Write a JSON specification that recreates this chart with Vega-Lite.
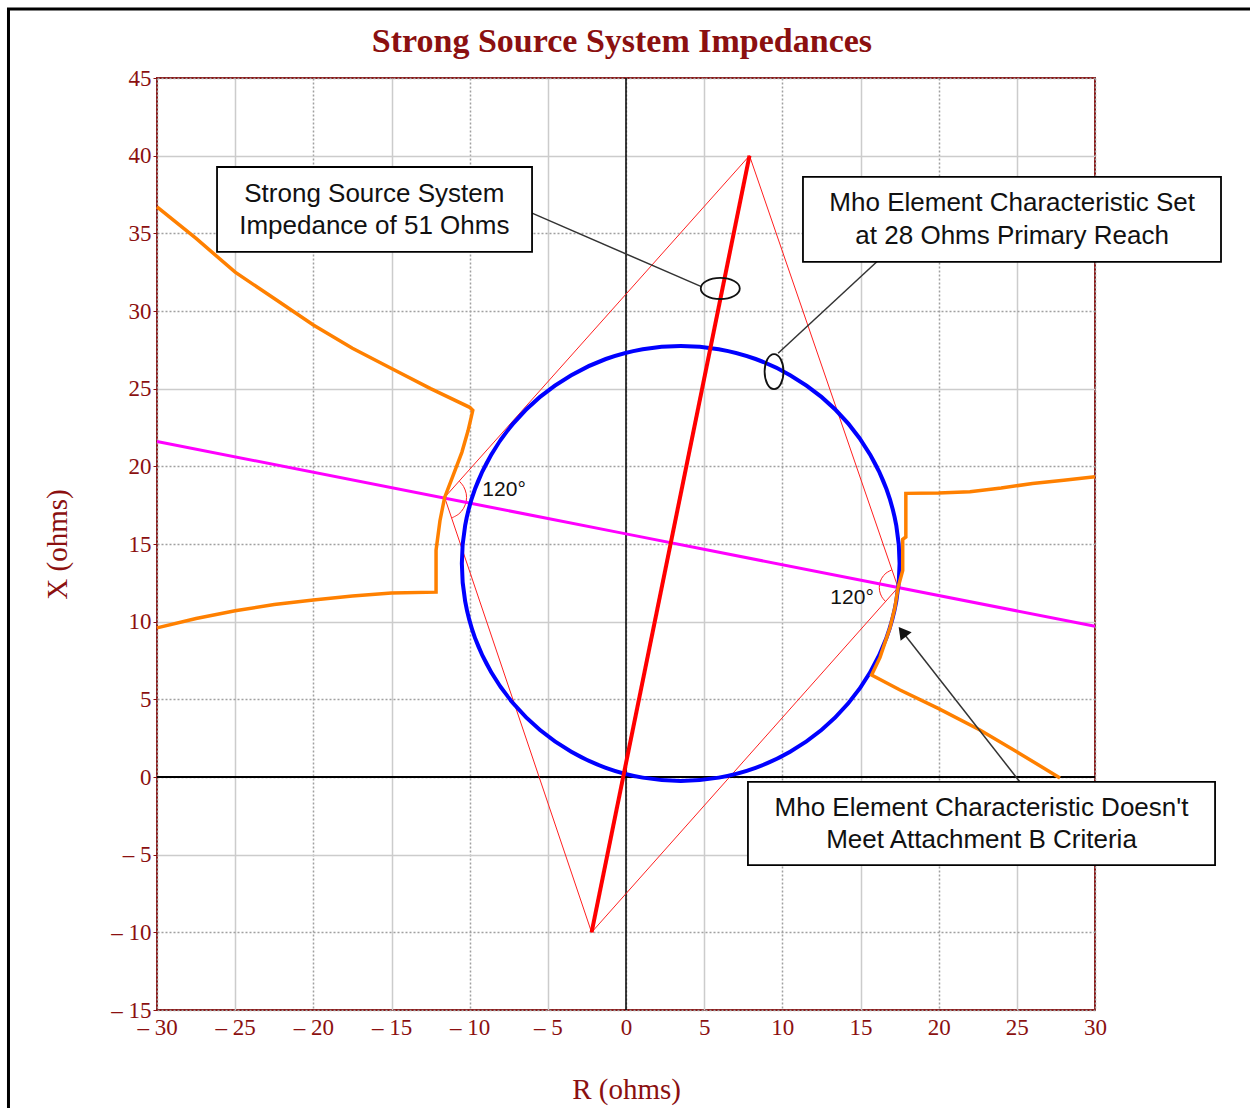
{
  "$schema": "https://vega.github.io/schema/vega-lite/v6.json",
  "width": 938,
  "height": 932,
  "autosize": {"type": "none"},
  "padding": {"left": 157, "top": 78, "right": 155, "bottom": 98},
  "background": "white",
  "datasets": {
    "frame": [{"x": -39.5, "x2": 60, "y": 49.45, "y2": -30}],
    "heading": [{"x": -0.26, "y": 46.67, "t": "Strong Source System Impedances"}],
    "zeroV": [{"x": 0, "y": -15, "y2": 45}],
    "zeroH": [{"x": -30, "x2": 30, "y": 0}],
    "poly": [
      {"o": 1, "x": 7.9, "y": 40},
      {"o": 2, "x": -11.6, "y": 18},
      {"o": 3, "x": -2.2, "y": -10},
      {"o": 4, "x": 17.4, "y": 12.2},
      {"o": 5, "x": 7.9, "y": 40}
    ],
    "arcs": [
      {"g": "L", "o": 1, "x": -10.66, "y": 19.04},
      {"g": "L", "o": 2, "x": -10.39, "y": 18.7},
      {"g": "L", "o": 3, "x": -10.22, "y": 18.24},
      {"g": "L", "o": 4, "x": -10.22, "y": 17.76},
      {"g": "L", "o": 5, "x": -10.39, "y": 17.3},
      {"g": "L", "o": 6, "x": -10.7, "y": 16.93},
      {"g": "L", "o": 7, "x": -11.14, "y": 16.68},
      {"g": "R", "o": 1, "x": 17.01, "y": 13.34},
      {"g": "R", "o": 2, "x": 16.63, "y": 13.12},
      {"g": "R", "o": 3, "x": 16.36, "y": 12.8},
      {"g": "R", "o": 4, "x": 16.22, "y": 12.41},
      {"g": "R", "o": 5, "x": 16.22, "y": 11.99},
      {"g": "R", "o": 6, "x": 16.36, "y": 11.6},
      {"g": "R", "o": 7, "x": 16.61, "y": 11.29}
    ],
    "magenta": [
      {"o": 1, "x": -30, "y": 21.6},
      {"o": 2, "x": 0, "y": 15.65},
      {"o": 3, "x": 30, "y": 9.7}
    ],
    "circle": [
      {"o": 0, "x": 17.5, "y": 13.75},
      {"o": 1, "x": 17.29, "y": 16.18},
      {"o": 2, "x": 16.66, "y": 18.54},
      {"o": 3, "x": 15.62, "y": 20.75},
      {"o": 4, "x": 14.22, "y": 22.75},
      {"o": 5, "x": 12.5, "y": 24.47},
      {"o": 6, "x": 10.5, "y": 25.87},
      {"o": 7, "x": 8.29, "y": 26.91},
      {"o": 8, "x": 5.93, "y": 27.54},
      {"o": 9, "x": 3.5, "y": 27.75},
      {"o": 10, "x": 1.07, "y": 27.54},
      {"o": 11, "x": -1.29, "y": 26.91},
      {"o": 12, "x": -3.5, "y": 25.87},
      {"o": 13, "x": -5.5, "y": 24.47},
      {"o": 14, "x": -7.22, "y": 22.75},
      {"o": 15, "x": -8.62, "y": 20.75},
      {"o": 16, "x": -9.66, "y": 18.54},
      {"o": 17, "x": -10.29, "y": 16.18},
      {"o": 18, "x": -10.5, "y": 13.75},
      {"o": 19, "x": -10.29, "y": 11.32},
      {"o": 20, "x": -9.66, "y": 8.96},
      {"o": 21, "x": -8.62, "y": 6.75},
      {"o": 22, "x": -7.22, "y": 4.75},
      {"o": 23, "x": -5.5, "y": 3.03},
      {"o": 24, "x": -3.5, "y": 1.63},
      {"o": 25, "x": -1.29, "y": 0.59},
      {"o": 26, "x": 1.07, "y": -0.04},
      {"o": 27, "x": 3.5, "y": -0.25},
      {"o": 28, "x": 5.93, "y": -0.04},
      {"o": 29, "x": 8.29, "y": 0.59},
      {"o": 30, "x": 10.5, "y": 1.63},
      {"o": 31, "x": 12.5, "y": 3.03},
      {"o": 32, "x": 14.22, "y": 4.75},
      {"o": 33, "x": 15.62, "y": 6.75},
      {"o": 34, "x": 16.66, "y": 8.96},
      {"o": 35, "x": 17.29, "y": 11.32}
    ],
    "orange": [
      {"g": "L", "o": 1, "x": -30, "y": 36.7},
      {"g": "L", "o": 2, "x": -27.5, "y": 34.67},
      {"g": "L", "o": 3, "x": -25, "y": 32.5},
      {"g": "L", "o": 4, "x": -22.5, "y": 30.8},
      {"g": "L", "o": 5, "x": -20, "y": 29.1},
      {"g": "L", "o": 6, "x": -17.5, "y": 27.6},
      {"g": "L", "o": 7, "x": -15, "y": 26.3},
      {"g": "L", "o": 8, "x": -12.5, "y": 25.0},
      {"g": "L", "o": 9, "x": -10, "y": 23.8},
      {"g": "L", "o": 10, "x": -9.8, "y": 23.6},
      {"g": "L", "o": 11, "x": -10.1, "y": 22.3},
      {"g": "L", "o": 12, "x": -10.5, "y": 20.9},
      {"g": "L", "o": 13, "x": -11.1, "y": 19.3},
      {"g": "L", "o": 14, "x": -11.6, "y": 18.0},
      {"g": "L", "o": 15, "x": -11.9, "y": 16.5},
      {"g": "L", "o": 16, "x": -12.15, "y": 14.6},
      {"g": "L", "o": 17, "x": -12.15, "y": 11.9},
      {"g": "L", "o": 18, "x": -15, "y": 11.85},
      {"g": "L", "o": 19, "x": -17.5, "y": 11.65},
      {"g": "L", "o": 20, "x": -20, "y": 11.4},
      {"g": "L", "o": 21, "x": -22.5, "y": 11.1},
      {"g": "L", "o": 22, "x": -25, "y": 10.7},
      {"g": "L", "o": 23, "x": -27.5, "y": 10.2},
      {"g": "L", "o": 24, "x": -30, "y": 9.6},
      {"g": "R", "o": 1, "x": 30, "y": 19.33},
      {"g": "R", "o": 2, "x": 28, "y": 19.1},
      {"g": "R", "o": 3, "x": 26, "y": 18.9},
      {"g": "R", "o": 4, "x": 24, "y": 18.6},
      {"g": "R", "o": 5, "x": 22, "y": 18.37},
      {"g": "R", "o": 6, "x": 20, "y": 18.28},
      {"g": "R", "o": 7, "x": 17.9, "y": 18.26},
      {"g": "R", "o": 8, "x": 17.9, "y": 15.45},
      {"g": "R", "o": 9, "x": 17.7, "y": 15.3},
      {"g": "R", "o": 10, "x": 17.7, "y": 13.3},
      {"g": "R", "o": 11, "x": 17.4, "y": 12.2},
      {"g": "R", "o": 12, "x": 17.2, "y": 10.9},
      {"g": "R", "o": 13, "x": 16.9, "y": 9.66},
      {"g": "R", "o": 14, "x": 16.25, "y": 7.7},
      {"g": "R", "o": 15, "x": 15.71, "y": 6.57},
      {"g": "R", "o": 16, "x": 17.53, "y": 5.6},
      {"g": "R", "o": 17, "x": 20, "y": 4.4},
      {"g": "R", "o": 18, "x": 22.64, "y": 3.03},
      {"g": "R", "o": 19, "x": 25.2, "y": 1.5},
      {"g": "R", "o": 20, "x": 27.76, "y": -0.06}
    ],
    "redline": [
      {"o": 1, "x": -2.2, "y": -10},
      {"o": 2, "x": 7.9, "y": 40}
    ],
    "leaders": [
      {"g": 1, "o": 1, "x": -6.01, "y": 36.3},
      {"g": 1, "o": 2, "x": 4.86, "y": 31.55},
      {"g": 2, "o": 1, "x": 9.73, "y": 27.28},
      {"g": 2, "o": 2, "x": 16.08, "y": 33.2},
      {"g": 3, "o": 1, "x": 25.2, "y": -0.32},
      {"g": 3, "o": 2, "x": 17.68, "y": 9.35}
    ],
    "ellH": [{"x": 6.03, "y": 31.45}],
    "ellV": [{"x": 9.47, "y": 26.1}],
    "arrowhead": [{"x": 17.68, "y": 9.35}],
    "boxes": [
      {"x": -26.16, "x2": -6.01, "y": 39.27, "y2": 33.8},
      {"x": 11.32, "x2": 38.06, "y": 38.63, "y2": 33.16},
      {"x": 7.8, "x2": 37.68, "y": -0.32, "y2": -5.67}
    ],
    "boxText": [
      {"x": -16.1, "y": 37.53, "t": "Strong Source System"},
      {"x": -16.1, "y": 35.47, "t": "Impedance of 51 Ohms"},
      {"x": 24.7, "y": 36.95, "t": "Mho Element Characteristic Set"},
      {"x": 24.7, "y": 34.83, "t": "at 28 Ohms Primary Reach"},
      {"x": 22.74, "y": -2.0, "t": "Mho Element Characteristic Doesn't"},
      {"x": 22.74, "y": -4.06, "t": "Meet Attachment B Criteria"}
    ],
    "angles": [
      {"x": -7.8, "y": 18.48, "t": "120°"},
      {"x": 14.46, "y": 11.52, "t": "120°"}
    ]
  },
  "encoding": {
    "x": {
      "field": "x",
      "type": "quantitative",
      "title": "R (ohms)",
      "scale": {"domain": [-30, 30], "nice": false, "zero": false},
      "axis": {
        "values": [-30, -25, -20, -15, -10, -5, 0, 5, 10, 15, 20, 25, 30],
        "labelExpr": "datum.value < 0 ? '– ' + (-datum.value) : '' + datum.value",
        "labelFont": "Liberation Serif",
        "labelFontSize": 23,
        "labelColor": "#8b1010",
        "labelPadding": 6,
        "labelFlush": false,
        "labelOverlap": false,
        "ticks": false,
        "domain": false,
        "grid": true,
        "gridWidth": 1.5,
        "gridColor": {"condition": {"test": "datum.value % 10 === 0", "value": "#a0a0a0"}, "value": "#cccccc"},
        "gridDash": {"condition": {"test": "datum.value % 10 === 0", "value": [2, 2]}, "value": []},
        "titleFont": "Liberation Serif",
        "titleFontSize": 29,
        "titleFontWeight": "normal",
        "titleColor": "#8b1010",
        "titlePadding": 36
      }
    },
    "y": {
      "field": "y",
      "type": "quantitative",
      "title": "X (ohms)",
      "scale": {"domain": [-15, 45], "nice": false, "zero": false},
      "axis": {
        "values": [-15, -10, -5, 0, 5, 10, 15, 20, 25, 30, 35, 40, 45],
        "labelExpr": "datum.value < 0 ? '– ' + (-datum.value) : '' + datum.value",
        "labelFont": "Liberation Serif",
        "labelFontSize": 23,
        "labelColor": "#8b1010",
        "labelPadding": 2,
        "labelFlush": false,
        "labelOverlap": false,
        "ticks": true,
        "tickSize": 4,
        "tickColor": "#8b1010",
        "domain": false,
        "grid": true,
        "gridWidth": 1.5,
        "gridColor": {"condition": {"test": "(datum.value + 5) % 15 === 0", "value": "#cccccc"}, "value": "#a0a0a0"},
        "gridDash": {"condition": {"test": "(datum.value + 5) % 15 === 0", "value": []}, "value": [2, 2]},
        "titleFont": "Liberation Serif",
        "titleFontSize": 29,
        "titleFontWeight": "normal",
        "titleColor": "#8b1010",
        "titlePadding": 38
      }
    }
  },
  "layer": [
    {
      "data": {"name": "frame"},
      "mark": {"type": "rect", "fillOpacity": 0, "stroke": "black", "strokeWidth": 3},
      "encoding": {"x2": {"field": "x2"}, "y2": {"field": "y2"}}
    },
    {
      "data": {"name": "heading"},
      "mark": {"type": "text", "font": "Liberation Serif", "fontSize": 34, "fontWeight": "bold", "color": "#8b1010", "align": "center", "baseline": "alphabetic"},
      "encoding": {"text": {"field": "t"}}
    },
    {
      "data": {"name": "zeroV"},
      "mark": {"type": "rule", "color": "black", "strokeWidth": 1.5},
      "encoding": {"y2": {"field": "y2"}}
    },
    {
      "data": {"name": "zeroH"},
      "mark": {"type": "rule", "color": "black", "strokeWidth": 2},
      "encoding": {"x2": {"field": "x2"}}
    },
    {
      "data": {"name": "poly"},
      "mark": {"type": "line", "color": "#ff2020", "strokeWidth": 1},
      "encoding": {"order": {"field": "o"}}
    },
    {
      "data": {"name": "arcs"},
      "mark": {"type": "line", "color": "#ff2020", "strokeWidth": 1, "interpolate": "cardinal"},
      "encoding": {"detail": {"field": "g"}, "order": {"field": "o"}}
    },
    {
      "data": {"name": "magenta"},
      "mark": {"type": "line", "color": "#ff00ff", "strokeWidth": 3},
      "encoding": {"order": {"field": "o"}}
    },
    {
      "data": {"name": "circle"},
      "mark": {"type": "line", "color": "#0000ff", "strokeWidth": 4, "interpolate": "cardinal-closed"},
      "encoding": {"order": {"field": "o"}}
    },
    {
      "data": {"name": "orange"},
      "mark": {"type": "line", "color": "#ff8000", "strokeWidth": 3.5},
      "encoding": {"detail": {"field": "g"}, "order": {"field": "o"}}
    },
    {
      "data": {"name": "redline"},
      "mark": {"type": "line", "color": "#ff0000", "strokeWidth": 4},
      "encoding": {"order": {"field": "o"}}
    },
    {
      "data": {"name": "leaders"},
      "mark": {"type": "line", "color": "#333333", "strokeWidth": 1.5},
      "encoding": {"detail": {"field": "g"}, "order": {"field": "o"}}
    },
    {
      "data": {"name": "ellH"},
      "mark": {"type": "point", "shape": "M-1,0A1,0.54,0,1,1,1,0A1,0.54,0,1,1,-1,0Z", "size": 1521, "filled": false, "stroke": "#111111", "strokeWidth": 1.8, "opacity": 1}
    },
    {
      "data": {"name": "ellV"},
      "mark": {"type": "point", "shape": "M0,-1A0.54,1,0,1,1,0,1A0.54,1,0,1,1,0,-1Z", "size": 1225, "filled": false, "stroke": "#111111", "strokeWidth": 1.8, "opacity": 1}
    },
    {
      "data": {"name": "arrowhead"},
      "mark": {"type": "point", "shape": "triangle-up", "size": 196, "filled": true, "color": "#111111", "angle": 322, "opacity": 1}
    },
    {
      "data": {"name": "boxes"},
      "mark": {"type": "rect", "fill": "white", "stroke": "black", "strokeWidth": 1.8},
      "encoding": {"x2": {"field": "x2"}, "y2": {"field": "y2"}}
    },
    {
      "data": {"name": "boxText"},
      "mark": {"type": "text", "font": "Liberation Sans", "fontSize": 26, "color": "#111111", "align": "center", "baseline": "middle"},
      "encoding": {"text": {"field": "t"}}
    },
    {
      "data": {"name": "angles"},
      "mark": {"type": "text", "font": "Liberation Sans", "fontSize": 21, "color": "#111111", "align": "center", "baseline": "middle"},
      "encoding": {"text": {"field": "t"}}
    }
  ],
  "config": {
    "view": {"stroke": "#8b1a1a", "strokeWidth": 2}
  }
}
